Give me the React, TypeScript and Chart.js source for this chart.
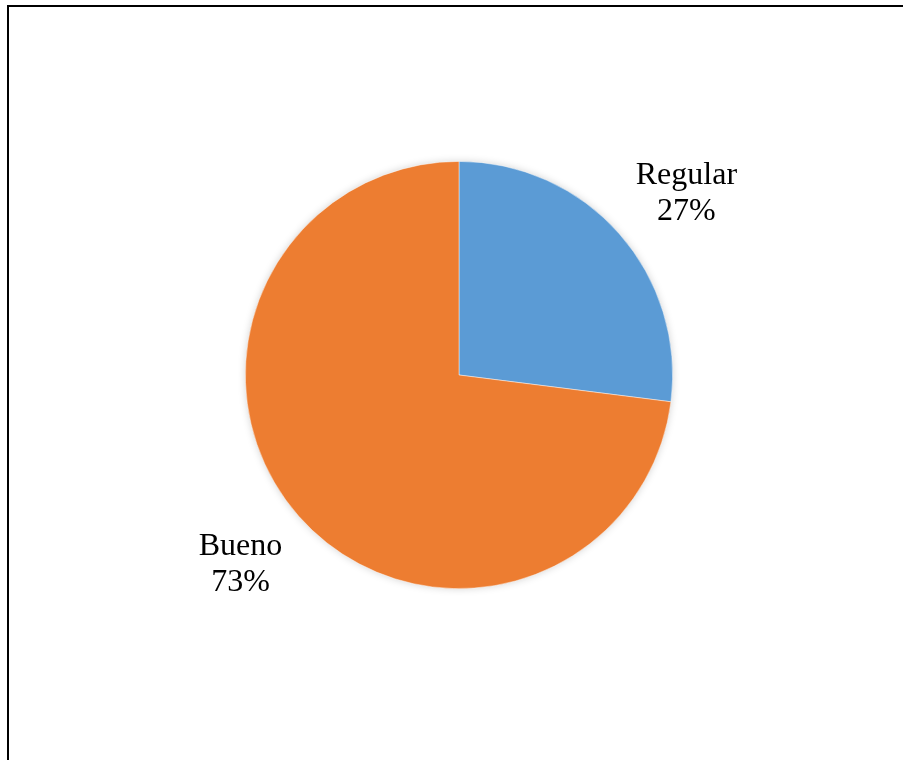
import React, { useEffect, useRef } from "react";
import { Chart, registerables } from "chart.js";

Chart.register(...registerables);

const categories = ["Regular", "Bueno"];
const values = [27, 73];
const percentLabels = ["27%", "73%"];
const colors = ["#5B9BD5", "#ED7D31"];

const shadowPlugin = {
  id: "pieShadow",
  beforeDatasetsDraw(chart: any) {
    const ctx = chart.ctx;
    const meta = chart.getDatasetMeta(0);
    const arc = meta.data[0];
    if (!arc) return;
    const { x, y, outerRadius } = arc.getProps(["x", "y", "outerRadius"], true);
    ctx.save();
    ctx.shadowColor = "rgba(0,0,0,0.22)";
    ctx.shadowBlur = 8;
    ctx.fillStyle = "#ffffff";
    ctx.beginPath();
    ctx.arc(x, y, outerRadius - 1, 0, Math.PI * 2);
    ctx.fill();
    ctx.restore();
  },
};

const labelPlugin = {
  id: "outsideLabels",
  afterDatasetsDraw(chart: any) {
    const ctx = chart.ctx;
    const meta = chart.getDatasetMeta(0);
    ctx.save();
    ctx.font = '32px "Liberation Serif", "Times New Roman", serif';
    ctx.fillStyle = "#000000";
    ctx.textAlign = "center";
    ctx.textBaseline = "alphabetic";
    const capH = 21;
    const lineGap = 36;
    const boxH = 60;
    meta.data.forEach((arc: any, i: number) => {
      const { x, y, startAngle, endAngle, outerRadius } = arc.getProps(
        ["x", "y", "startAngle", "endAngle", "outerRadius"],
        true
      );
      const mid = (startAngle + endAngle) / 2;
      const r = outerRadius + 22;
      const px = x + Math.cos(mid) * r;
      const py = y + Math.sin(mid) * r;
      const w = Math.max(
        ctx.measureText(categories[i]).width,
        ctx.measureText(percentLabels[i]).width
      );
      const left = Math.cos(mid) >= 0 ? px : px - w;
      const top = Math.sin(mid) < 0 ? py - boxH + 4 : py + 3;
      const cx = left + w / 2;
      ctx.fillText(categories[i], cx, top + capH);
      ctx.fillText(percentLabels[i], cx, top + capH + lineGap);
    });
    ctx.restore();
  },
};

export default function App() {
  const ref = useRef<HTMLCanvasElement | null>(null);
  useEffect(() => {
    if (!ref.current) return;
    const chart = new Chart(ref.current, {
      type: "pie",
      data: {
        labels: categories,
        datasets: [
          {
            data: values,
            backgroundColor: colors,
            borderColor: "rgba(255,255,255,0.6)",
            borderWidth: 0.75,
          },
        ],
      },
      options: {
        responsive: false,
        animation: false,
        layout: { padding: { left: 245, right: 230, top: 161, bottom: 171 } },
        plugins: {
          legend: { display: false },
          tooltip: { enabled: false },
        },
      },
      plugins: [shadowPlugin, labelPlugin],
    });
    return () => chart.destroy();
  }, []);
  return (
    <div>
      <canvas
        ref={ref}
        width={903}
        height={760}
        style={{ position: "fixed", left: 0, top: 0, width: 903, height: 760, background: "#ffffff" }}
      />
      <div
        style={{
          position: "fixed",
          left: 7,
          top: 5,
          right: 0,
          bottom: 0,
          borderLeft: "2px solid #000",
          borderTop: "2px solid #000",
          pointerEvents: "none",
        }}
      />
    </div>
  );
}
